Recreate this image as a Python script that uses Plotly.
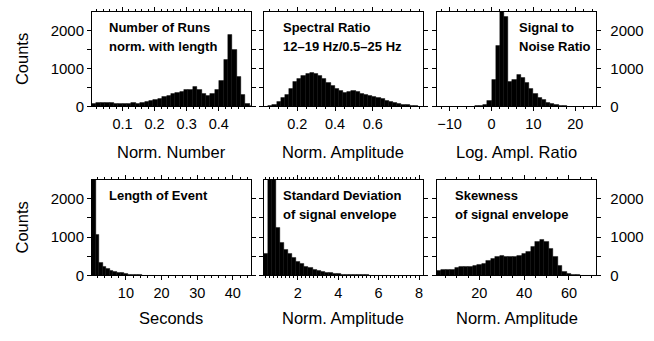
import plotly.graph_objects as go

W, H = 654, 341

# ---------------- data (bin start, bin width, counts) ----------------
runs_start, runs_width = 0.005, 0.01366
runs_counts = [60, 95, 100, 100, 95, 80, 70, 70, 80, 95, 85, 105, 130, 145, 180, 215,
               260, 290, 330, 360, 400, 440, 450, 510, 450, 335, 290, 345, 450, 690,
               1225, 1900, 1500, 790, 320, 70, 15]
runs_ticks = [0.1, 0.2, 0.3, 0.4]

spec_start, spec_width = 0.023, 0.0221
spec_counts = [5, 12, 45, 120, 220, 300, 460, 640, 730, 820, 870, 885, 870, 815, 720,
               625, 550, 480, 410, 375, 395, 415, 380, 335, 300, 275, 250, 220, 195,
               160, 130, 95, 70, 50, 35, 22, 12, 6]
spec_ticks = [0.2, 0.4, 0.6]

snr_start, snr_width = -5.0, 1.0
snr_counts = [3, 8, 20, 50, 145, 700, 1610, 2700, 2370, 660, 700, 840, 760, 620, 480,
              340, 240, 165, 105, 62, 36, 18, 8, 3]
snr_ticks = [-10, 0, 10, 20]

len_start, len_width = 0.5, 1.0
len_counts = [3200, 1070, 330, 230, 165, 130, 100, 80, 60, 45, 30, 20, 12, 8, 5, 3, 2, 1]
len_ticks = [10, 20, 30, 40]

std_start, std_width = 0.33, 0.2
std_counts = [560, 2700, 2700, 1250, 850, 680, 560, 450, 360, 295, 240, 195, 155, 125,
              100, 80, 64, 50, 40, 31, 24, 18, 14, 10, 8, 6, 4, 3, 2, 2, 1]
std_ticks = [2, 4, 6, 8]

skew_start, skew_width = 1.0, 2.0
skew_counts = [120, 145, 150, 160, 190, 215, 228, 235, 255, 275, 300, 380, 440, 500, 508,
               480, 495, 480, 520, 555, 620, 760, 890, 940, 870, 700, 500, 260, 100, 50,
               25, 10, 5, 3, 2, 1]
skew_ticks = [20, 40, 60]

count_ticks = [0, 1000, 2000]
count_minor = [500, 1500]

panels = [
    dict(start=runs_start, width=runs_width, counts=runs_counts, rng=[0.005, 0.4995],
         ticks=runs_ticks, minor=0.02, title="Norm. Number",
         label=["Number of Runs", "norm. with length"]),
    dict(start=spec_start, width=spec_width, counts=spec_counts, rng=[0.023, 0.865],
         ticks=spec_ticks, minor=0.05, title="Norm. Amplitude",
         label=["Spectral Ratio", "12\u201319 Hz/0.5\u201325 Hz"]),
    dict(start=snr_start, width=snr_width, counts=snr_counts, rng=[-13, 25],
         ticks=snr_ticks, minor=2, title="Log. Ampl. Ratio",
         label=["Signal to", "Noise Ratio"]),
    dict(start=len_start, width=len_width, counts=len_counts, rng=[0.5, 45],
         ticks=len_ticks, minor=2, title="Seconds",
         label=["Length of Event"]),
    dict(start=std_start, width=std_width, counts=std_counts, rng=[0.33, 8.18],
         ticks=std_ticks, minor=0.2, title="Norm. Amplitude",
         label=["Standard Deviation", "of signal envelope"]),
    dict(start=skew_start, width=skew_width, counts=skew_counts, rng=[1.1, 72.2],
         ticks=skew_ticks, minor=5, title="Norm. Amplitude",
         label=["Skewness", "of signal envelope"]),
]

# ---------------- layout geometry (pixels) ----------------
xpix = [(92, 250.7), (264, 422.7), (437, 596.3)]
ypix = [(12, 109), (184, 282)]
label_x = [107, 281, 516.7, 107, 281, 453]
title_y = [156, 326]

FONT = "Liberation Sans"
fig = go.Figure()
layout = dict(width=W, height=H, margin=dict(l=0, r=0, t=0, b=0), autosize=False,
              paper_bgcolor="white", plot_bgcolor="white", showlegend=False,
              bargap=0, font=dict(family=FONT, color="black"))
annotations = []

for i, p in enumerate(panels):
    row, col = divmod(i, 3)
    n = i + 1
    xs = "" if n == 1 else str(n)
    x0, x1 = xpix[col]
    yt, yb = ypix[row]
    centers = [p["start"] + (k + 0.5) * p["width"] for k in range(len(p["counts"]))]
    fig.add_trace(go.Bar(x=centers, y=p["counts"], width=p["width"],
                         marker=dict(color="black", line=dict(color="black", width=0.4)),
                         xaxis="x" + xs, yaxis="y" + xs, hoverinfo="skip"))
    layout["xaxis" + xs] = dict(
        domain=[x0 / W, x1 / W], range=p["rng"], anchor="y" + xs,
        showline=True, linecolor="black", linewidth=1, mirror="ticks",
        ticks="outside", ticklen=4, tickwidth=1, tickcolor="black",
        tickvals=p["ticks"], showgrid=False, zeroline=False,
        minor=dict(dtick=p["minor"], tick0=0, ticks="outside", ticklen=2,
                   tickcolor="black", showgrid=False),
        tickfont=dict(family=FONT, size=14.5, color="black"))
    layout["yaxis" + xs] = dict(
        domain=[1 - yb / H, 1 - yt / H], range=[0, 2500], anchor="x" + xs,
        showline=True, linecolor="black", linewidth=1, mirror="ticks",
        ticks="outside", ticklen=4, tickwidth=1, tickcolor="black",
        tickvals=count_ticks, showgrid=False, zeroline=False,
        minor=dict(tickvals=count_minor, ticks="outside", ticklen=4, tickcolor="black",
                   showgrid=False),
        showticklabels=(col != 1), side=("right" if col == 2 else "left"),
        ticklabelstandoff=(6 if col == 2 else 0),
        tickfont=dict(family=FONT, size=15, color="black"))
    # x axis title
    annotations.append(dict(text=p["title"], xref="paper", yref="paper",
                            x=(x0 + x1) / 2 / W, y=1 - title_y[row] / H,
                            xanchor="center", yanchor="middle", showarrow=False,
                            font=dict(family=FONT, size=16.5, color="black")))
    # panel label
    for j, line in enumerate(p["label"]):
        annotations.append(dict(text=line, xref="paper", yref="paper",
                                x=label_x[i] / W, y=1 - (yt + 16.5 + 19 * j) / H,
                                xanchor="left", yanchor="middle", showarrow=False,
                                font=dict(family=FONT, size=13, color="black",
                                          weight="bold")))

for row in range(2):
    yt, yb = ypix[row]
    annotations.append(dict(text="Counts", xref="paper", yref="paper",
                            x=22 / W, y=1 - (yt + yb) / 2 / H, textangle=-90,
                            xanchor="center", yanchor="middle", showarrow=False,
                            font=dict(family=FONT, size=16.5, color="black")))

layout["annotations"] = annotations
fig.update_layout(**layout)
fig.write_html("out.html")
